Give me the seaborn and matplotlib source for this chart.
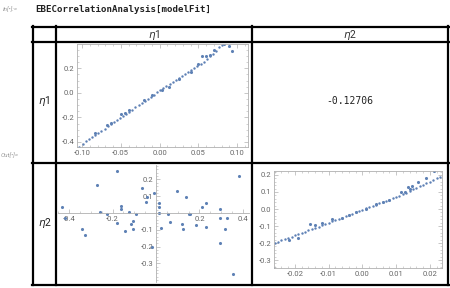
import matplotlib
matplotlib.use("Agg")
import matplotlib.pyplot as plt
from matplotlib.ticker import MultipleLocator, FixedLocator, FormatStrFormatter
import seaborn as sns

sns.set_theme(style="white")
plt.rcParams["font.family"] = ["Roboto", "DejaVu Sans"]
plt.rcParams["axes.unicode_minus"] = False

# --- data ------------------------------------------------------------------
labels = ["η1", "η2"]
correlation = -0.12706
command = "EBECorrelationAnalysis[modelFit]"

# eta1 diagonal: dense reference line + data points
eta1_line_x = [-0.104, -0.099, -0.095, -0.091, -0.087, -0.083, -0.079, -0.075, -0.071,
               -0.067, -0.063, -0.059, -0.055, -0.051, -0.047, -0.043, -0.039, -0.035,
               -0.031, -0.027, -0.023, -0.019, -0.015, -0.011, -0.007, -0.003, 0.001,
               0.005, 0.009, 0.013, 0.017, 0.021, 0.025, 0.029, 0.033, 0.037, 0.041,
               0.045, 0.049, 0.053, 0.057, 0.061, 0.065, 0.069, 0.073, 0.077, 0.081]
eta1_line_y = [-0.44, -0.413, -0.395, -0.378, -0.361, -0.343, -0.326, -0.309, -0.291,
               -0.274, -0.257, -0.239, -0.222, -0.205, -0.188, -0.170, -0.153, -0.136,
               -0.118, -0.101, -0.084, -0.066, -0.049, -0.032, -0.014, 0.003, 0.02,
               0.036, 0.053, 0.069, 0.086, 0.102, 0.119, 0.135, 0.151, 0.168, 0.184,
               0.20, 0.217, 0.235, 0.255, 0.275, 0.297, 0.32, 0.345, 0.37, 0.39]
eta1_pts_x = [-0.083, -0.068, -0.062, -0.05, -0.045, -0.04, -0.02, -0.01, 0.003, 0.012,
              0.025, 0.04, 0.05, 0.055, 0.06, 0.065, 0.07, 0.083, 0.09, 0.093]
eta1_pts_y = [-0.33, -0.26, -0.245, -0.175, -0.165, -0.14, -0.055, -0.015, 0.02, 0.05,
              0.11, 0.17, 0.235, 0.30, 0.30, 0.31, 0.35, 0.395, 0.385, 0.345]

# eta2 diagonal
eta2_line_x = [-0.026, -0.025, -0.024, -0.023, -0.022, -0.021, -0.020, -0.019, -0.018,
               -0.017, -0.016, -0.015, -0.014, -0.013, -0.012, -0.011, -0.010, -0.009,
               -0.008, -0.007, -0.006, -0.005, -0.004, -0.003, -0.002, -0.001, 0.000,
               0.001, 0.002, 0.003, 0.004, 0.005, 0.006, 0.007, 0.008, 0.009, 0.010,
               0.011, 0.012, 0.013, 0.014, 0.015, 0.016, 0.017, 0.018, 0.019, 0.020,
               0.021, 0.022, 0.023]
eta2_line_y = [-0.20, -0.193, -0.185, -0.178, -0.17, -0.163, -0.155, -0.148, -0.14,
               -0.133, -0.125, -0.118, -0.11, -0.103, -0.095, -0.088, -0.08, -0.073,
               -0.065, -0.058, -0.05, -0.043, -0.035, -0.028, -0.02, -0.013, -0.005,
               0.003, 0.01, 0.018, 0.025, 0.033, 0.04, 0.048, 0.055, 0.063, 0.07,
               0.078, 0.087, 0.096, 0.105, 0.115, 0.124, 0.133, 0.142, 0.152, 0.161,
               0.17, 0.18, 0.19]
eta2_pts_x = [-0.0264, -0.0217, -0.019, -0.0155, -0.014, -0.012, -0.009, -0.006, -0.004,
              -0.002, 0.001, 0.004, 0.006, 0.008, 0.0115, 0.0125, 0.0135, 0.014, 0.0148,
              0.0165, 0.019, 0.0212]
eta2_pts_y = [-0.345, -0.182, -0.168, -0.09, -0.095, -0.085, -0.06, -0.055, -0.035,
              -0.015, 0.0, 0.03, 0.04, 0.05, 0.10, 0.10, 0.13, 0.115, 0.135,
              0.16, 0.18, 0.225]

# off-diagonal: eta1 (x) vs eta2 (y)
scatter_eta1 = [-0.432, -0.419, -0.341, -0.327, -0.272, -0.258, -0.226, -0.181, -0.181,
                -0.163, -0.163, -0.143, -0.123, -0.115, -0.107, -0.105, -0.092, -0.066,
                -0.046, -0.043, -0.02, -0.009, 0.015, 0.015, 0.015, 0.024, 0.057, 0.065,
                0.095, 0.12, 0.126, 0.14, 0.151, 0.157, 0.184, 0.21, 0.229, 0.229,
                0.292, 0.292, 0.292, 0.318, 0.326, 0.356, 0.382]
scatter_eta2 = [0.034, -0.032, -0.097, -0.131, 0.167, 0.004, -0.006, 0.25, -0.061,
                0.044, 0.024, -0.105, 0.008, -0.065, -0.097, -0.048, -0.006, 0.151,
                0.067, 0.093, -0.204, 0.117, 0.061, 0.034, 0.002, -0.087, -0.006, -0.055,
                0.133, -0.063, -0.097, 0.093, -0.006, -0.006, -0.071, 0.036, 0.058, -0.082,
                0.026, -0.032, -0.18, -0.097, -0.032, -0.363, 0.22]

# --- styling ------------------------------------------------------------------
W, H = 450, 288
BLUE = "#5e81b5"
FRAME = "#b0b0b0"
TICKLAB = "#666666"

fig = plt.figure(figsize=(W / 100, H / 100), dpi=100)
fig.patch.set_facecolor("white")


def px_axes(left, top, right, bottom):
    return fig.add_axes([left / W, 1 - bottom / H, (right - left) / W, (bottom - top) / H])


# background layer for table grid and notebook text
bg = fig.add_axes([0, 0, 1, 1])
bg.set_xlim(0, W)
bg.set_ylim(H, 0)
bg.axis("off")

for x in [33, 55.5, 252, 447.5]:
    bg.plot([x, x], [26, 285], color="black", lw=1.6, solid_capstyle="projecting")
for y in [26.5, 42, 163, 284.5]:
    bg.plot([32, 448.5], [y, y], color="black", lw=1.6, solid_capstyle="projecting")

bg.text(3, 10, "In[•]:=", fontsize=4.5, style="italic", color="#999999", va="center")
bg.text(35, 10, command, fontsize=6.6, fontweight="bold", family="DejaVu Sans Mono",
        color="#222222", va="center")
bg.text(1, 156, "Out[•]=", fontsize=4.5, style="italic", color="#999999", va="center")

for cx, lab in zip([154, 350], labels):
    bg.text(cx, 34.5, "$\\eta$" + lab[1:], fontsize=7.5, color="#333333", ha="center", va="center")
for cy, lab in zip([101, 223], labels):
    bg.text(44.5, cy, "$\\eta$" + lab[1:], fontsize=7.5, color="#222222", ha="center", va="center")

bg.text(350, 101, f"{correlation:.5f}", fontsize=7, family="DejaVu Sans Mono",
        color="#222222", ha="center", va="center")


def frame_style(ax, xmaj, xmin, ymaj, ymin, xfmt, yfmt):
    for sp in ax.spines.values():
        sp.set_visible(True)
        sp.set_color(FRAME)
        sp.set_linewidth(0.6)
    ax.xaxis.set_major_locator(MultipleLocator(xmaj))
    ax.xaxis.set_minor_locator(MultipleLocator(xmin))
    ax.yaxis.set_major_locator(MultipleLocator(ymaj))
    ax.yaxis.set_minor_locator(MultipleLocator(ymin))
    ax.xaxis.set_major_formatter(FormatStrFormatter(xfmt))
    ax.yaxis.set_major_formatter(FormatStrFormatter(yfmt))
    ax.tick_params(which="both", direction="in", top=True, right=True, bottom=True,
                   left=True, color=FRAME, labelcolor=TICKLAB, labelsize=5.5, pad=2)
    ax.tick_params(which="major", length=3, width=0.5)
    ax.tick_params(which="minor", length=1.5, width=0.4)
    ax.set_xlabel("")
    ax.set_ylabel("")
    ax.set_facecolor("white")


# eta1 vs eta1
ax1 = px_axes(77, 44, 248, 147)
sns.scatterplot(x=eta1_line_x, y=eta1_line_y, ax=ax1, color=BLUE, s=3, linewidth=0)
sns.scatterplot(x=eta1_pts_x, y=eta1_pts_y, ax=ax1, color=BLUE, s=5, linewidth=0)
ax1.set_xlim(-0.1065, 0.1142)
ax1.set_ylim(-0.441, 0.398)
frame_style(ax1, 0.05, 0.01, 0.2, 0.05, "%.2f", "%.1f")

# eta2 vs eta2
ax4 = px_axes(274, 171, 442, 268)
sns.scatterplot(x=eta2_line_x, y=eta2_line_y, ax=ax4, color=BLUE, s=3, linewidth=0)
sns.scatterplot(x=eta2_pts_x, y=eta2_pts_y, ax=ax4, color=BLUE, s=5, linewidth=0)
ax4.set_xlim(-0.0262, 0.0236)
ax4.set_ylim(-0.347, 0.2235)
frame_style(ax4, 0.01, 0.002, 0.1, 0.02, "%.2f", "%.1f")

# eta1 vs eta2 scatter with axes through origin
ax3 = px_axes(58, 165, 249, 282)
sns.scatterplot(x=scatter_eta1, y=scatter_eta2, ax=ax3, color=BLUE, s=5, linewidth=0)
ax3.set_xlim(-0.4506, 0.4276)
ax3.set_ylim(-0.411, 0.286)
ax3.set_facecolor("none")
for side in ["top", "right"]:
    ax3.spines[side].set_visible(False)
for side in ["left", "bottom"]:
    ax3.spines[side].set_position("zero")
    ax3.spines[side].set_color(FRAME)
    ax3.spines[side].set_linewidth(0.6)
ax3.xaxis.set_major_locator(FixedLocator([-0.4, -0.2, 0.2, 0.4]))
ax3.xaxis.set_minor_locator(MultipleLocator(0.05))
ax3.yaxis.set_major_locator(FixedLocator([-0.3, -0.2, -0.1, 0.1, 0.2]))
ax3.yaxis.set_minor_locator(MultipleLocator(0.02))
ax3.xaxis.set_major_formatter(FormatStrFormatter("%.1f"))
ax3.yaxis.set_major_formatter(FormatStrFormatter("%.1f"))
ax3.tick_params(which="both", direction="in", color=FRAME, labelcolor=TICKLAB,
                labelsize=5.5, pad=2, bottom=True, left=True)
ax3.tick_params(which="major", length=3, width=0.5)
ax3.tick_params(which="minor", length=1.5, width=0.4)
ax3.set_xlabel("")
ax3.set_ylabel("")

fig.savefig("out.png", dpi=100, facecolor="white")
